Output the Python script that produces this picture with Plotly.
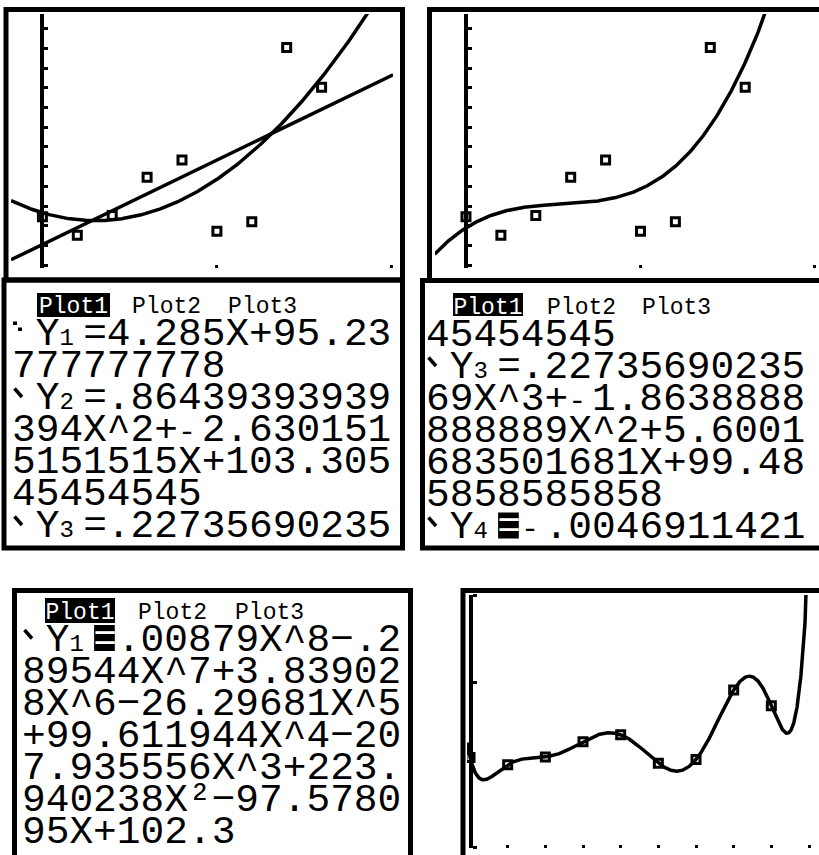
import numpy as np
import plotly.graph_objects as go

W, H = 819, 855

# ---------------- data ----------------
x_data = [0, 1, 2, 3, 4, 5, 6, 7, 8]
y_data = [102.3, 97.6, 102.6, 112.3, 116.7, 98.6, 101.0, 145.2, 135.1]

# regression coefficients shown on the calculator screens
lin_coef = [4.285, 95.23777777778]
quad_coef = [0.86439393939394, -2.6301515151515, 103.30545454545]
cubic_coef = [0.22735690235690, -1.8638888888889, 5.6001683501681, 99.485858585858]

tab_labels = ["Plot1", "Plot2", "Plot3"]

screen_a = ["⋱Y₁=4.285X+95.23", "777777778", "\\Y₂=.86439393939",
            "394X^2+⁻2.630151", "5151515X+103.305", "45454545",
            "\\Y₃=.22735690235"]
screen_b = ["45454545", "\\Y₃=.22735690235", "69X^3+⁻1.8638888",
            "888889X^2+5.6001", "683501681X+99.48", "5858585858",
            "\\Y₄■⁻.0046911421"]
screen_c = ["\\Y₁■.00879X^8-.2", "89544X^7+3.83902", "8X^6-26.29681X^5",
            "+99.611944X^4-20", "7.935556X^3+223.", "940238X²-97.5780",
            "95X+102.3"]
caption = "le data with a line."

# ---------------- helpers ----------------
FONT = "Liberation Mono"
FS = 39.5            # glyph size of the screen font
CW = 0.6 * FS        # character cell width
LS = 32.0            # line pitch in pixels
BASE = LS / 1.3      # base font size giving that line pitch
HS = 23              # size of the Plot1/Plot2/Plot3 tabs
ASC, DESC, CAPH = 0.8325, 0.3003, 0.659


def PX(px):
    return px / W


def PY(py):
    return 1 - py / H


annotations = []
shapes = []


def rect(x0, x1, y0, y1, color="black"):
    shapes.append(dict(type="rect", xref="paper", yref="paper",
                       x0=PX(x0), x1=PX(x1), y0=PY(y1), y1=PY(y0),
                       fillcolor=color, line=dict(width=0)))


def seg(x0, y0, x1, y1, w=3.5):
    shapes.append(dict(type="line", xref="paper", yref="paper",
                       x0=PX(x0), x1=PX(x1), y0=PY(y0), y1=PY(y1),
                       line=dict(color="black", width=w)))


def nb(width):
    if width <= 0.2:
        return ""
    return '<span style="font-size:%.2fpx">\u00a0</span>' % (width / 0.6)


def span(txt, size, color=None):
    st = "font-size:%.2fpx" % size
    if color:
        st += ";color:%s" % color
    return '<span style="%s">%s</span>' % (st, txt)


SUBS = {"₁": "1", "₂": "2", "₃": "3", "₄": "4"}


def line_markup(text, x0, yc):
    parts, run = [], ""

    def flush():
        nonlocal run
        if run:
            parts.append(span(run, FS))
        run = ""

    for i, ch in enumerate(text):
        left = x0 + i * CW
        if ch == "\\":
            flush()
            parts.append(nb(CW))
            seg(left + 2.5, yc - 8, left + 10, yc + 0.5)
        elif ch == "⋱":
            flush()
            parts.append(nb(CW))
            rect(left + 1, left + 5, yc - 11, yc - 7.5)
            rect(left + 6, left + 10, yc - 5, yc - 1.5)
        elif ch in SUBS:
            flush()
            parts.append(span(SUBS[ch], 24))
            parts.append(nb(CW - 0.6 * 24))
        elif ch == "⁻":
            flush()
            parts.append(span("-", 30))
            parts.append(nb(CW - 0.6 * 30))
        elif ch == "■":
            flush()
            rect(left + 1, left + CW - 2, yc - 13, yc + 13)
            parts.append(span("=", FS, "white"))
        elif ch == "-":
            run += "\u2212"
        else:
            run += ch
    flush()
    return "".join(parts)


def screen(x0, yc0, lines, tab_box, tab_y, tab2, tab3):
    # black tab behind "Plot1"
    rect(tab_box[0], tab_box[1], tab_y[0], tab_y[1])
    t1 = (tab_box[0] + tab_box[1]) / 2 - 2.5 * 0.6 * HS
    hdr = (nb(t1 - x0) + span(tab_labels[0], HS, "white") +
           nb(tab2 - t1 - 5 * 0.6 * HS) + span(tab_labels[1], HS) +
           nb(tab3 - tab2 - 5 * 0.6 * HS) + span(tab_labels[2], HS))
    body = [line_markup(t, x0, yc0 + LS * k) for k, t in enumerate(lines)]
    yc_last = yc0 + LS * (len(lines) - 1)
    bottom = yc_last + (CAPH / 2) * FS + DESC * FS
    annotations.append(dict(
        x=PX(x0), y=PY(bottom), xref="paper", yref="paper",
        text="<br>".join([hdr] + body), showarrow=False,
        xanchor="left", yanchor="bottom", align="left",
        borderpad=0, borderwidth=0,
        font=dict(family=FONT, size=BASE, color="black")))


def border(x0, x1, y0, y1):
    shapes.append(dict(type="rect", xref="paper", yref="paper",
                       x0=PX(x0), x1=PX(x1), y0=PY(y1), y1=PY(y0),
                       line=dict(color="black", width=5), fillcolor="rgba(0,0,0,0)"))


# ---------------- figure ----------------
fig = go.Figure()
mk = dict(symbol="square-open", size=8, color="black", line=dict(width=3, color="black"))

xs1 = np.linspace(-0.9, 10.05, 500)
fig.add_trace(go.Scatter(x=xs1, y=np.polyval(lin_coef, xs1), mode="lines",
                         line=dict(color="black", width=3.5), xaxis="x", yaxis="y"))
fig.add_trace(go.Scatter(x=xs1, y=np.polyval(quad_coef, xs1), mode="lines",
                         line=dict(color="black", width=3.5), xaxis="x", yaxis="y"))
fig.add_trace(go.Scatter(x=x_data, y=y_data, mode="markers", marker=mk,
                         xaxis="x", yaxis="y"))

xs2 = np.linspace(-0.9, 10.12, 500)
fig.add_trace(go.Scatter(x=xs2, y=np.polyval(cubic_coef, xs2), mode="lines",
                         line=dict(color="black", width=3.5), xaxis="x2", yaxis="y2"))
fig.add_trace(go.Scatter(x=x_data, y=y_data, mode="markers", marker=mk,
                         xaxis="x2", yaxis="y2"))

deg8_coef = np.polyfit(x_data, y_data, 8)
xs3 = np.linspace(-0.08, 9.27, 1200)
fig.add_trace(go.Scatter(x=xs3, y=np.polyval(deg8_coef, xs3), mode="lines",
                         line=dict(color="black", width=3.5), xaxis="x3", yaxis="y3"))
fig.add_trace(go.Scatter(x=x_data, y=y_data, mode="markers", marker=mk,
                         xaxis="x3", yaxis="y3"))


def xax(dom, rng, dtick, anchor):
    return dict(domain=[PX(dom[0]), PX(dom[1])], range=rng, anchor=anchor,
                showgrid=False, zeroline=False, showline=False,
                ticks="inside", ticklen=3, tickwidth=3, tickcolor="black",
                dtick=dtick, tick0=0, showticklabels=False, fixedrange=True)


def yax(dom, rng, pos, **kw):
    return dict(domain=[PY(dom[1]), PY(dom[0])], range=rng, anchor="free",
                position=PX(pos), side="right", showline=True, linewidth=4,
                linecolor="black", ticks="outside", ticklen=4, tickwidth=3,
                tickcolor="black", showticklabels=False, showgrid=False,
                zeroline=False, fixedrange=True, **kw)


# screens borders
border(6, 402.5, 9.5, 280)        # graph top-left
border(4, 402.5, 280, 548)        # text top-left
border(429.5, 840, 9.5, 280.5)    # graph top-right
border(422.5, 840, 280.5, 548)    # text top-right
border(14.5, 410.5, 590.5, 880)   # text bottom-left
border(463, 840, 590.5, 880)      # graph bottom-right

# screen texts
screen(12, 332.5, screen_a, (37, 110), (293, 317), 132, 228)
screen(426, 333.5, screen_b, (453, 523), (293, 316), 547, 642)
screen(22, 638.0, screen_c, (45, 115), (598, 623), 138, 235)

annotations.append(dict(x=0, y=PY(2), xref="paper", yref="paper", text=caption,
                        showarrow=False, xanchor="left", yanchor="bottom",
                        borderpad=0, borderwidth=0,
                        font=dict(family="Liberation Serif", size=20, color="#222")))

fig.update_layout(
    width=W, height=H, margin=dict(l=0, r=0, t=0, b=0),
    paper_bgcolor="white", plot_bgcolor="rgba(0,0,0,0)", showlegend=False,
    xaxis=xax((11, 393), [-0.9, 10.046], 5, "y"),
    yaxis=yax((14, 268), [89.3, 153.7], 42.4, dtick=5, tick0=0),
    xaxis2=xax((435, 819), [-0.888, 10.115], 5, "y2"),
    yaxis2=yax((14, 268), [89.3, 153.7], 466, dtick=5, tick0=0),
    xaxis3=xax((467, 819), [-0.08, 9.265], 1, "y3"),
    yaxis3=yax((595, 848), [44.6, 205.7], 471, tickvals=[45.2, 150, 205.1]),
    shapes=shapes, annotations=annotations,
)

fig.write_html("out.html", config={"displayModeBar": False},
               post_script="document.body.style.margin='0';document.body.style.overflow='hidden';")
